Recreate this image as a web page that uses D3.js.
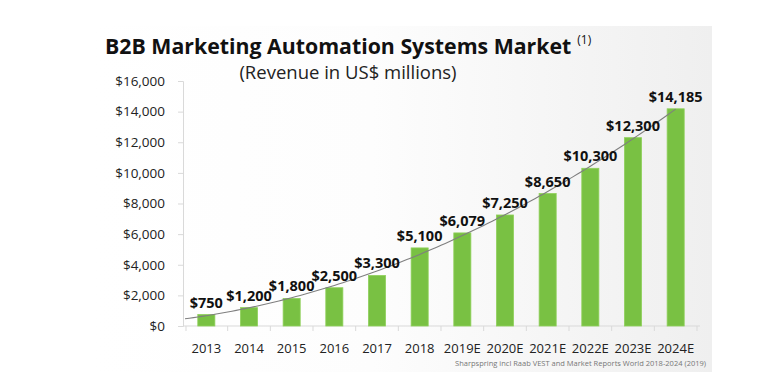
<!DOCTYPE html>
<html>
<head>
<meta charset="utf-8">
<script src="https://cdn.jsdelivr.net/npm/d3@7"></script>
<style>
  body { margin: 0; background: #fff; }
  svg { display: block; font-family: "Open Sans", "Noto Sans", sans-serif; }
</style>
</head>
<body>
<div id="chart"></div>
<script>
// Daten
const years = ["2013", "2014", "2015", "2016", "2017", "2018", "2019E", "2020E", "2021E", "2022E", "2023E", "2024E"];
const revenue = [750, 1200, 1800, 2500, 3300, 5100, 6079, 7250, 8650, 10300, 12300, 14185];
const yTicks = [0, 2000, 4000, 6000, 8000, 10000, 12000, 14000, 16000];

const width = 779;
const height = 391;
const fontFam = '"Open Sans", "Noto Sans", sans-serif';

const svg = d3.select("#chart").append("svg")
    .attr("width", width)
    .attr("height", height);

// Hintergrund-Panel
const defs = svg.append("defs");
const bg = defs.append("linearGradient").attr("id", "bg").attr("x1", "0").attr("x2", "1").attr("y1", "0").attr("y2", "0");
bg.append("stop").attr("offset", "0").attr("stop-color", "#ffffff");
bg.append("stop").attr("offset", "0.45").attr("stop-color", "#fdfdfd");
bg.append("stop").attr("offset", "1").attr("stop-color", "#efefef");
svg.append("rect")
    .attr("x", 95).attr("y", 26)
    .attr("width", 617).attr("height", 346)
    .attr("fill", "url(#bg)");

// Skalen
const x = d3.scaleBand()
    .domain(years)
    .range([185, 697])
    .paddingInner(0.6)
    .paddingOuter(0.3);

const y = d3.scaleLinear()
    .domain([0, 16000])
    .range([326, 81]);

// Achsen
const yAxis = svg.append("g")
    .attr("transform", "translate(183,0)")
    .call(d3.axisLeft(y).tickValues(yTicks).tickFormat(d => "$" + d3.format(",")(d)).tickSize(5).tickPadding(13));
yAxis.attr("font-family", fontFam);
yAxis.select(".domain").attr("stroke", "#d9d9d9");
yAxis.selectAll(".tick line").attr("stroke", "#d9d9d9");
yAxis.selectAll("text").attr("font-size", 13.5).attr("fill", "#222");

const xAxis = svg.append("g")
    .attr("transform", "translate(0,326)");
xAxis.append("line")
    .attr("x1", 183).attr("x2", 700)
    .attr("stroke", "#d9d9d9");
// Ticks zwischen den Kategorien
const step = x.step();
xAxis.selectAll(".sep").data(years.concat(["end"])).join("line")
    .attr("class", "sep")
    .attr("x1", (d, i) => i === 0 ? 186 : x(years[i - 1]) + x.bandwidth() / 2 + step / 2)
    .attr("x2", (d, i) => i === 0 ? 186 : x(years[i - 1]) + x.bandwidth() / 2 + step / 2)
    .attr("y1", 0).attr("y2", 5)
    .attr("stroke", "#d9d9d9");
xAxis.selectAll(".lbl").data(years).join("text")
    .attr("class", "lbl")
    .attr("x", d => x(d) + x.bandwidth() / 2)
    .attr("y", 27)
    .attr("text-anchor", "middle")
    .attr("font-size", 13)
    .attr("fill", "#222")
    .text(d => d);

// Balken
svg.selectAll(".bar").data(years).join("rect")
    .attr("class", "bar")
    .attr("x", d => x(d))
    .attr("y", (d, i) => y(revenue[i]))
    .attr("width", x.bandwidth())
    .attr("height", (d, i) => y(0) - y(revenue[i]))
    .attr("fill", "#79c143")
    .attr("stroke", "#8fd05a")
    .attr("stroke-width", 0.8);

// Trendlinie (quadratische Regression über die Werte)
const n = revenue.length;
const idx = d3.range(n);
function fitQuad(xs, ys) {
    let s = [0, 0, 0, 0, 0], t = [0, 0, 0];
    xs.forEach((xv, k) => {
        for (let p = 0; p < 5; p++) s[p] += Math.pow(xv, p);
        for (let p = 0; p < 3; p++) t[p] += ys[k] * Math.pow(xv, p);
    });
    const M = [[s[0], s[1], s[2], t[0]], [s[1], s[2], s[3], t[1]], [s[2], s[3], s[4], t[2]]];
    for (let c = 0; c < 3; c++) {
        for (let r = c + 1; r < 3; r++) {
            const f = M[r][c] / M[c][c];
            for (let k = c; k < 4; k++) M[r][k] -= f * M[c][k];
        }
    }
    const b = [0, 0, 0];
    for (let r = 2; r >= 0; r--) {
        let v = M[r][3];
        for (let k = r + 1; k < 3; k++) v -= M[r][k] * b[k];
        b[r] = v / M[r][r];
    }
    return b;
}
const coef = fitQuad(idx, revenue);
const xi = i => x(years[0]) + x.bandwidth() / 2 + i * step;
const trend = d3.range(-0.5, n - 1 + 0.001, 0.1).map(i => [xi(i), y(coef[0] + coef[1] * i + coef[2] * i * i)]);
svg.append("path")
    .attr("d", d3.line()(trend))
    .attr("fill", "none")
    .attr("stroke", "#7f7f7f")
    .attr("stroke-width", 1.1);

// Wertbeschriftungen
svg.selectAll(".val").data(years).join("text")
    .attr("class", "val")
    .attr("x", d => x(d) + x.bandwidth() / 2)
    .attr("y", (d, i) => y(revenue[i]) - 7)
    .attr("text-anchor", "middle")
    .attr("font-size", 14.5)
    .attr("font-weight", "bold")
    .attr("fill", "#111")
    .text((d, i) => "$" + d3.format(",")(revenue[i]));

// Titel
const title = svg.append("text")
    .attr("x", 105).attr("y", 54)
    .attr("font-size", 21.3)
    .attr("font-weight", "bold")
    .attr("fill", "#111");
title.append("tspan").text("B2B Marketing Automation Systems Market");
title.append("tspan").attr("dx", 6).attr("dy", -10).attr("font-size", 12).attr("font-weight", "normal").text("(1)");

svg.append("text")
    .attr("x", 348).attr("y", 79)
    .attr("text-anchor", "middle")
    .attr("font-size", 18.5)
    .attr("fill", "#222")
    .text("(Revenue in US$ millions)");

// Quelle
svg.append("text")
    .attr("x", 706).attr("y", 366)
    .attr("text-anchor", "end")
    .attr("font-size", 7.5)
    .attr("fill", "#777")
    .text("Sharpspring  incl Raab VEST and Market Reports World 2018-2024 (2019)");
</script>
</body>
</html>
